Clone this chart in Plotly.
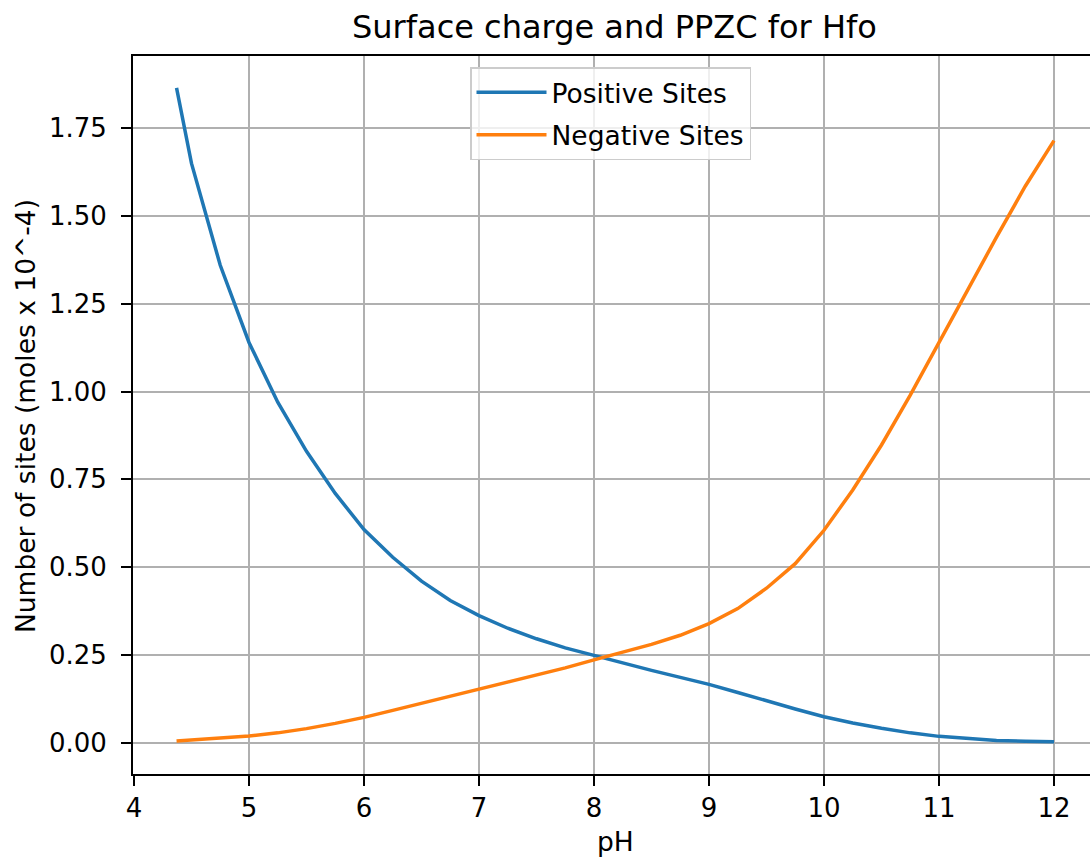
import plotly.graph_objects as go

# pH values of the titration steps
ph = [4.37, 4.5, 4.75, 5.0, 5.25, 5.5, 5.75, 6.0, 6.25, 6.5, 6.75, 7.0, 7.25, 7.5,
      7.75, 8.0, 8.25, 8.5, 8.75, 9.0, 9.25, 9.5, 9.75, 10.0, 10.25, 10.5, 10.75,
      11.0, 11.25, 11.5, 11.75, 12.0]

# surface site counts (moles x 10^-4)
positive_sites = [1.865, 1.65, 1.36, 1.14, 0.97, 0.83, 0.71, 0.607, 0.528, 0.46, 0.405,
                  0.362, 0.326, 0.296, 0.27, 0.248, 0.227, 0.206, 0.186, 0.166, 0.143,
                  0.119, 0.096, 0.074, 0.056, 0.041, 0.028, 0.018, 0.011, 0.006, 0.004,
                  0.003]
negative_sites = [0.005, 0.008, 0.012, 0.019, 0.028, 0.040, 0.055, 0.072, 0.092, 0.112,
                  0.133, 0.153, 0.173, 0.193, 0.213, 0.236, 0.257, 0.280, 0.306, 0.339,
                  0.382, 0.44, 0.51, 0.605, 0.72, 0.848, 0.99, 1.138, 1.29, 1.44, 1.585,
                  1.715]

x_ticks = [4, 5, 6, 7, 8, 9, 10, 11, 12]
y_ticks = [0.0, 0.25, 0.5, 0.75, 1.0, 1.25, 1.5, 1.75]
y_tick_labels = ["0.00", "0.25", "0.50", "0.75", "1.00", "1.25", "1.50", "1.75"]

FONT = "DejaVu Sans"
TXT = "#000000"

fig = go.Figure()
fig.add_trace(go.Scatter(x=ph, y=positive_sites, mode="lines", name="Positive Sites",
                         legendgroup="pos",
                         line=dict(color="#1f77b4", width=3.5)))
fig.add_trace(go.Scatter(x=ph, y=negative_sites, mode="lines", name="Negative Sites",
                         legendgroup="neg",
                         line=dict(color="#ff7f0e", width=3.5)))

axis_common = dict(
    showgrid=True, gridcolor="#b0b0b0", gridwidth=2,
    zeroline=False, showline=True, linecolor="#000000", linewidth=2,
    ticks="outside", ticklen=10, tickwidth=2, tickcolor="#000000",
    tickfont=dict(family=FONT, size=26, color=TXT),
)

fig.update_layout(
    width=1090, height=859,
    margin=dict(l=133, r=0, t=56, b=85),
    paper_bgcolor="white", plot_bgcolor="white",
    font=dict(family=FONT, color=TXT),
    showlegend=True,
    legend=dict(
        x=(470 - 133) / 957, y=(774 - 67) / 718, xanchor="left", yanchor="top",
        bgcolor="rgba(255,255,255,0.8)", bordercolor="#cccccc", borderwidth=1.5,
        font=dict(family=FONT, size=26.5, color=TXT),
        itemwidth=70, tracegroupgap=5,
    ),
    xaxis=dict(range=[3.9913, 12.313], tickvals=x_ticks, mirror=True, **axis_common),
    yaxis=dict(range=[-0.0892, 1.956], tickvals=y_ticks, ticktext=y_tick_labels,
               mirror=False, ticklabelstandoff=9, **axis_common),
    annotations=[
        dict(text="Surface charge and PPZC for Hfo", xref="paper", yref="paper",
             x=(614 - 133) / 957, y=1, xanchor="center", yanchor="bottom", yshift=8,
             showarrow=False, font=dict(family=FONT, size=32, color=TXT)),
        dict(text="pH", xref="paper", yref="paper",
             x=(615 - 133) / 957, y=(774 - 859) / 718, xanchor="center", yanchor="bottom",
             showarrow=False, font=dict(family=FONT, size=26.5, color=TXT)),
        dict(text="Number of sites (moles x 10^-4)", xref="paper", yref="paper",
             x=(25 - 133) / 957, y=(774 - 416) / 718, xanchor="center", yanchor="middle",
             textangle=-90, showarrow=False, font=dict(family=FONT, size=26.5, color=TXT)),
    ],
)

fig.write_html("out.html")
